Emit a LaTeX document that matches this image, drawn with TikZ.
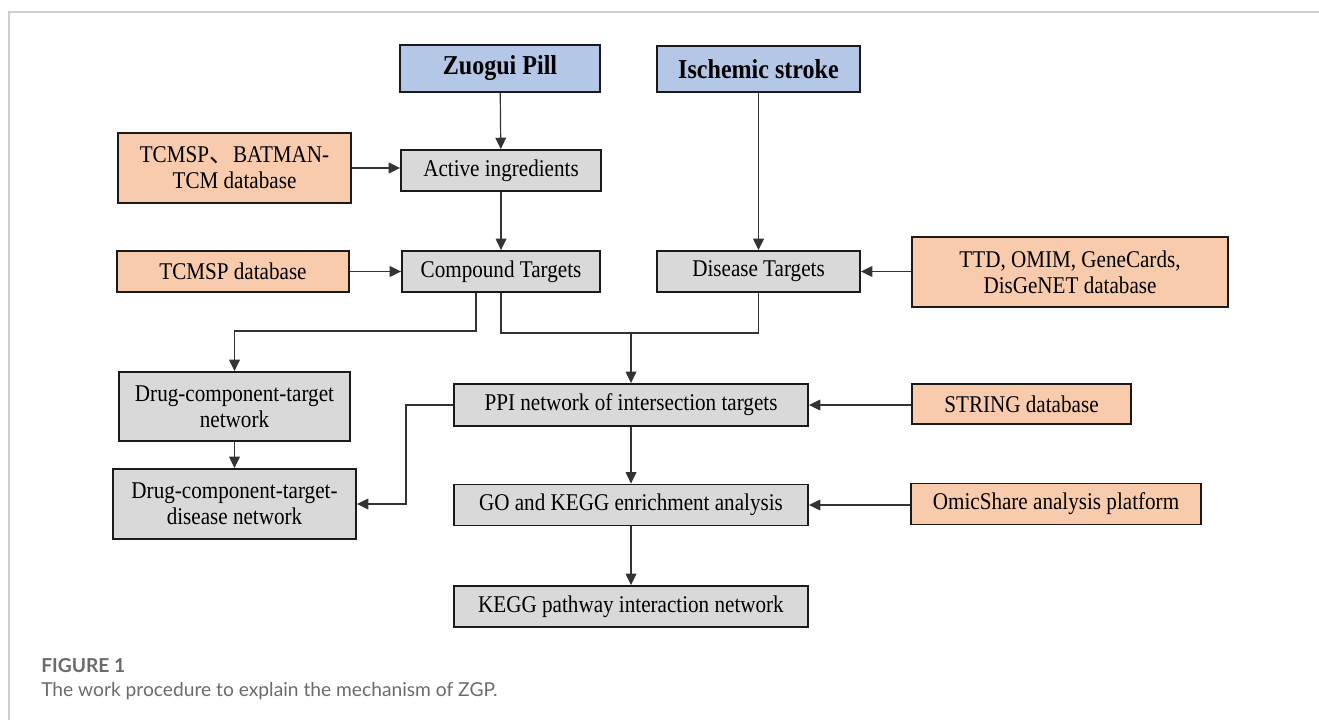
\documentclass[tikz,border=0pt]{standalone}
\usepackage{fontspec}
\setmainfont{Liberation Serif}[FakeStretch=0.88]
\newfontfamily\capfont{Lato}
\newfontfamily\cjk{Noto Sans CJK SC}
\usetikzlibrary{arrows.meta}
\definecolor{bluefill}{HTML}{B4C7E7}
\definecolor{orangefill}{HTML}{F8CBAD}
\definecolor{grayfill}{HTML}{D9D9D9}
\definecolor{edge}{HTML}{1A1A1A}
\definecolor{wire}{HTML}{333333}
\definecolor{captext}{HTML}{6B6B6B}
\definecolor{framegray}{HTML}{CFCFCF}
\begin{document}
\begin{tikzpicture}[x=0.75pt,y=-0.75pt,
  base/.style={draw=edge, line width=1.4pt, inner sep=2pt, align=center,
    font=\fontsize{18}{19.5}\selectfont},
  sz/.style 2 args={minimum width=#1*0.75pt, minimum height=#2*0.75pt},
  bluebox/.style={base, fill=bluefill, font=\fontsize{20.5}{22}\selectfont\bfseries},
  orangebox/.style={base, fill=orangefill},
  graybox/.style={base, fill=grayfill},
  arr/.style={draw=wire, line width=0.9pt, -{Triangle[length=8.5pt,width=8pt]}},
  wireline/.style={draw=wire, line width=0.9pt}]
\useasboundingbox (0,0) rectangle (1319,720);
% frame
\draw[framegray, line width=1.5pt] (9,720) -- (9,12) -- (1319,12);

% nodes
\node[bluebox, sz={200}{47}] (zuogui) at (500,68.5) {Zuogui Pill};
\node[bluebox, sz={203}{46}] (isch) at (758.5,69) {Ischemic stroke};
\node[orangebox, sz={233}{70}] (tcm1) at (234.5,168) {TCMSP{\cjk 、}BATMAN-\\TCM database};
\node[graybox, sz={200}{41}] (act) at (501,170.5) {Active ingredients};
\node[orangebox, sz={232}{41}] (tcm2) at (233,271.5) {TCMSP database};
\node[graybox, sz={198}{41}] (comp) at (501,271.5) {Compound Targets};
\node[graybox, sz={203}{41}] (dis) at (758.5,271.5) {Disease Targets};
\node[orangebox, sz={316}{70}] (ttd) at (1070,272) {TTD, OMIM, GeneCards,\\DisGeNET database};
\node[graybox, sz={231}{69}] (dct) at (234.5,406.5) {Drug-component-target\\network};
\node[graybox, sz={243}{70}] (dctd) at (234.5,504) {Drug-component-target-\\disease network};
\node[graybox, sz={354}{42}] (ppi) at (631,405) {PPI network of intersection targets};
\node[orangebox, sz={219}{40}] (str) at (1021.5,404) {STRING database};
\node[graybox, sz={354}{41}] (go) at (631,505) {GO and KEGG enrichment analysis};
\node[orangebox, sz={290}{41}] (omic) at (1056,504) {OmicShare analysis platform};
\node[graybox, sz={354}{41}] (kegg) at (631,606.5) {KEGG pathway interaction network};

% connectors
\draw[arr] (zuogui) -- (act);
\draw[arr] (isch) -- (dis);
\draw[arr] (tcm1.east) -- (tcm1.east -| act.west);
\draw[arr] (tcm2.east) -- (comp.west);
\draw[arr] (ttd.west |- dis.east) -- (dis.east);
\draw[arr] (act) -- (comp);

\coordinate (b1) at (476,331);
\draw[arr] (b1 |- comp.south) -- (b1) -| (dct.north);

\coordinate (j) at (631,333);
\draw[wireline] (comp.south) |- (dis.south |- j) -- (dis.south);
\draw[arr] (j) -- (ppi.north);

\coordinate (b2) at (406,405);
\draw[arr] (ppi.west) -- (b2) |- (dctd.east);
\draw[arr] (dct) -- (dctd);

\draw[arr] (str.west |- ppi.east) -- (ppi.east);
\draw[arr] (omic.west |- go.east) -- (go.east);
\draw[arr] (ppi) -- (go);
\draw[arr] (go) -- (kegg);

% caption
\node[anchor=base west, inner sep=0pt, text=captext, font=\capfont\fontsize{14.4}{16}\selectfont\bfseries] (figlabel) at (41,672) {FIGURE 1};
\node[anchor=base west, inner sep=0pt, text=captext, font=\capfont\fontsize{14.4}{16}\selectfont] (figcap) at (41,696) {The work procedure to explain the mechanism of ZGP.};
\end{tikzpicture}
\end{document}
